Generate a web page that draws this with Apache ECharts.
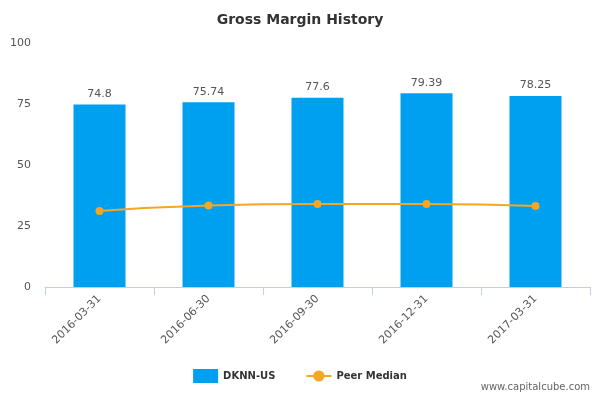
<!DOCTYPE html>
<html><head><meta charset="utf-8">
<script src="https://cdn.jsdelivr.net/npm/echarts@6/dist/echarts.min.js"></script>
<style>html,body{margin:0;padding:0;background:#fff}#c{width:600px;height:400px}</style>
</head><body><div id="c"></div>
<script>
const categories = ['2016-03-31','2016-06-30','2016-09-30','2016-12-31','2017-03-31'];
const dknnValues = [74.8, 75.74, 77.6, 79.39, 78.25];
const peerMedian = [31.1, 33.4, 34.0, 34.0, 33.2];
const yTicks = [0, 25, 50, 75, 100];
const chart = echarts.init(document.getElementById('c'));
chart.setOption({
  animation: false,
  title: {text: 'Gross Margin History', left: 'center', top: 8,
    textStyle: {fontFamily: 'DejaVu Sans', fontSize: 14, fontWeight: 'bold', color: '#333'}},
  graphic: [{type: 'text', right: 10, bottom: 8,
    style: {text: 'www.capitalcube.com', fill: '#666', font: '10px DejaVu Sans'}}],
  legend: {bottom: 12, left: 'center', itemGap: 30,
    textStyle: {fontFamily: 'DejaVu Sans', fontSize: 10, fontWeight: 'bold', color: '#333'},
    data: [{name: 'DKNN-US', icon: 'rect'}, {name: 'Peer Median'}]},
  grid: {left: 45, right: 10, top: 43, bottom: 113},
  xAxis: {type: 'category', data: categories,
    axisLine: {lineStyle: {color: '#c0d0e0'}},
    axisTick: {show: true, length: 8, lineStyle: {color: '#c0d0e0'}},
    axisLabel: {rotate: 45, color: '#555', fontFamily: 'DejaVu Sans', fontSize: 11, margin: 10}},
  yAxis: {type: 'value', min: yTicks[0], max: yTicks[yTicks.length-1], interval: 25,
    splitLine: {show: false}, axisLine: {show: false}, axisTick: {show: false},
    axisLabel: {color: '#555', fontFamily: 'DejaVu Sans', fontSize: 11, margin: 14}},
  series: [
    {name: 'DKNN-US', type: 'bar', data: dknnValues, barWidth: 52,
      itemStyle: {color: '#00a0f0'},
      label: {show: true, position: 'top', color: '#555', fontFamily: 'DejaVu Sans', fontSize: 11}},
    {name: 'Peer Median', type: 'line', data: peerMedian, smooth: true,
      symbol: 'circle', symbolSize: 8,
      lineStyle: {color: '#f5a623', width: 2}, itemStyle: {color: '#f5a623'}}
  ]
});
</script></body></html>
